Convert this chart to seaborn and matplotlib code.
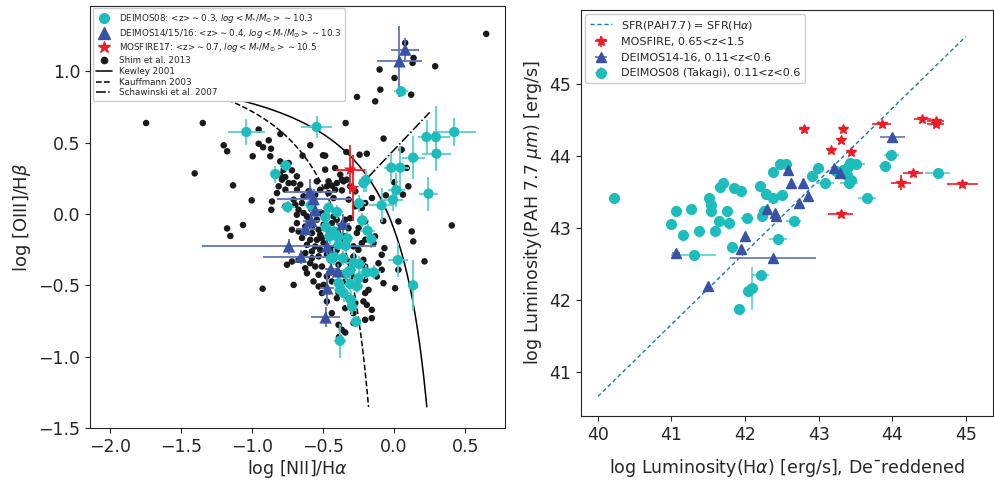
import numpy as np
import matplotlib
matplotlib.use("Agg")
import matplotlib.pyplot as plt
from matplotlib.lines import Line2D
import seaborn as sns

# ---- BPT panel: Shim et al. 2013 (black dots) ----
shim_x = [-0.644, -0.485, -0.243, -0.192, -0.801, -0.742, -0.777, -0.719, -0.801, -0.766,
          -0.742, -0.789, -0.684, -0.707, -0.485, -0.415, -0.379, -0.543, -0.461, -0.403,
          -0.356, -0.333, -0.473, -0.438, -0.520, -0.367, -0.415, -0.602, -0.555, -0.707,
          -0.648, -0.859, -0.766, -0.695, -0.672, -0.864, -0.637, -0.684, -0.613, -0.508,
          -0.473, -0.426, -0.438, -0.403, -0.344, -0.309, -0.321, -0.684, -0.625, -0.578,
          -0.531, -0.672, -0.719, -0.578, -0.520, -0.461, -0.415, -0.543, -0.508, -0.590,
          -0.613, -0.555, -0.520, -0.578, -0.625, -0.438, -0.403, -0.333, -0.286, -0.251,
          -0.227, -0.134, -0.145, -0.068, -0.672, -0.754, -0.719, -0.590, -0.555, -0.625,
          -0.508, -0.321, -0.286, -0.216, -0.204, -0.110, -0.087, -0.368, -0.531, -0.613,
          -0.473, -0.567, -0.531, -0.496, -0.438, -0.344, -0.204, -0.122, -0.075, 0.007,
          0.030, -0.180, -0.707, -0.391, -0.403, -0.321, -0.216, -0.192, -0.157, -0.438,
          -0.344, -0.286, -0.204, -0.157, -0.391, -0.368, -0.344, 0.053, 0.100, 0.030,
          0.135, -0.087, 0.124,
          0.648, 0.078, 0.137, 0.130, -0.102, 0.289, 0.003, -0.097, 0.120, -0.261,
          -0.133, -0.341, -1.745, -1.346, -0.074, -0.590, -0.953, -0.800, -0.882, -1.199,
          -1.175, -0.953, -0.922, -0.866, -0.995, -0.871, -1.403, -1.133, -1.002, -1.063,
          -1.175, -1.152, -0.925, -0.500, -0.336, 0.088, 0.001, 0.062, -0.058, -0.076,
          0.214, 0.406, -0.388,
          -0.578, -0.543, -0.496, -0.601, -0.648, -0.496, -0.473, -0.426, -0.391, -0.531,
          -0.578, -0.367, -0.309, -0.273, -0.461, -0.426, -0.320, -0.273, -0.227, -0.203,
          -0.156, -0.250, -0.203, -0.262, -0.203, -0.637, -0.765, -0.812, -0.824, -0.683,
          -0.660, -0.344, -0.379, -0.297, -0.250, -0.203, -0.273, -0.508, -0.473, -0.285]
shim_y = [0.409, 0.409, 0.416, 0.423, 0.369, 0.357, 0.311, 0.306, 0.276, 0.259,
          0.217, 0.241, 0.264, 0.217, 0.311, 0.323, 0.276, 0.229, 0.229, 0.217,
          0.229, 0.241, 0.194, 0.199, 0.170, 0.166, 0.170, 0.159, 0.135, 0.100,
          0.077, 0.088, 0.053, 0.065, 0.030, 0.030, 0.007, -0.005, -0.017, 0.007,
          -0.017, -0.017, -0.064, -0.040, -0.040, -0.029, -0.099, -0.064, -0.087, -0.087,
          -0.110, -0.122, -0.110, -0.134, -0.146, -0.122, -0.122, -0.181, -0.169, -0.181,
          -0.216, -0.227, -0.251, -0.262, -0.274, -0.251, -0.251, -0.227, -0.227, -0.251,
          -0.204, -0.157, -0.204, -0.239, -0.321, -0.356, -0.333, -0.345, -0.368, -0.380,
          -0.368, -0.333, -0.298, -0.321, -0.368, -0.345, -0.391, -0.415, -0.426, -0.415,
          -0.438, -0.473, -0.508, -0.497, -0.473, -0.473, -0.462, -0.438, -0.485, -0.520,
          -0.391, -0.532, -0.497, -0.555, -0.590, -0.590, -0.613, -0.637, -0.672, -0.695,
          -0.660, -0.695, -0.742, -0.730, -0.777, -0.812, -0.831, 0.451, 0.194, -0.052,
          -0.192, -0.286, -0.122,
          1.263, 1.200, 1.094, 1.059, 1.013, 1.036, 0.954, 0.872, 0.837, 0.821,
          0.790, 0.638, 0.638, 0.638, 0.529, 0.482, 0.592, 0.561, 0.517, 0.482,
          0.440, 0.493, 0.468, 0.458, 0.405, 0.405, 0.285, 0.201, 0.096, -0.077,
          -0.101, -0.154, -0.524, 0.412, 0.435, 0.323, 0.222, 0.136, 0.131, -0.049,
          -0.332, -0.080, -0.863,
          0.030, -0.040, -0.075, -0.052, -0.168, -0.203, -0.285, -0.320, -0.355, -0.297,
          -0.309, 0.241, 0.194, 0.159, 0.147, 0.112, 0.101, 0.054, 0.042, 0.077,
          0.112, -0.098, -0.051, -0.133, -0.180, 0.124, 0.171, 0.194, 0.147, 0.171,
          0.206, -0.157, -0.203, -0.437, -0.508, -0.554, -0.624, -0.554, -0.613, -0.765]

# ---- BPT panel: DEIMOS08 ----
d08_x = [0.050, -0.545, -1.040, -0.763, -0.836, 0.423, 0.228, 0.294, 0.298, 0.134,
         -0.020, 0.043, 0.242, -0.200, -0.215, 0.015, -0.008, -0.088, -0.247, -0.224,
         -0.187, -0.161, -0.585, -0.749, -0.461, -0.484, -0.402, -0.480, -0.454, -0.395,
         -0.421, -0.329, -0.390, -0.341, -0.425, -0.360, -0.444, -0.285, -0.245, -0.308,
         -0.340, -0.196, -0.144, -0.390, -0.308, -0.250, -0.261, -0.355, -0.380, -0.304,
         -0.297, -0.268, -0.381, 0.027, 0.134]
d08_y = [0.860, 0.610, 0.575, 0.340, 0.280, 0.575, 0.540, 0.540, 0.423, 0.395,
         0.325, 0.325, 0.143, 0.236, 0.217, 0.168, 0.100, 0.061, 0.075, -0.044,
         -0.117, -0.175, 0.063, 0.049, 0.044, -0.023, 0.014, -0.091, -0.157, -0.161,
         -0.122, -0.171, -0.215, -0.222, -0.297, -0.309, -0.313, -0.344, -0.351, -0.395,
         -0.419, -0.409, -0.409, -0.484, -0.491, -0.449, -0.507, -0.554, -0.531, -0.601,
         -0.648, -0.755, -0.889, -0.323, -0.500]
d08_xerr = [0.05, 0.11, 0.13, 0.04, 0.04, 0.15, 0.06, 0.10, 0.10, 0.08,
            0.05, 0.06, 0.07, 0.05, 0.04, 0.06, 0.07, 0.09, 0.05, 0.04,
            0.05, 0.04, 0.05, 0.05, 0.04, 0.03, 0.04, 0.03, 0.04, 0.03,
            0.03, 0.04, 0.04, 0.04, 0.04, 0.04, 0.03, 0.05, 0.04, 0.04,
            0.04, 0.06, 0.05, 0.04, 0.04, 0.04, 0.04, 0.05, 0.04, 0.04,
            0.04, 0.03, 0.04, 0.07, 0.03]
d08_yerr = [0.04, 0.08, 0.09, 0.04, 0.06, 0.10, 0.12, 0.22, 0.12, 0.15,
            0.10, 0.15, 0.12, 0.08, 0.06, 0.12, 0.08, 0.12, 0.06, 0.05,
            0.05, 0.06, 0.05, 0.04, 0.05, 0.04, 0.05, 0.04, 0.05, 0.04,
            0.04, 0.05, 0.04, 0.05, 0.06, 0.05, 0.04, 0.08, 0.06, 0.06,
            0.05, 0.05, 0.05, 0.06, 0.05, 0.05, 0.05, 0.06, 0.05, 0.06,
            0.06, 0.04, 0.12, 0.12, 0.18]

# ---- BPT panel: DEIMOS14/15/16 ----
d14_x = [0.078, 0.038, -0.590, -0.566, -0.554, -0.582, -0.622, -0.362, -0.470, -0.740,
         -0.655, -0.444, -0.395, -0.470, -0.482]
d14_y = [1.153, 1.071, 0.154, 0.105, 0.026, -0.049, -0.105, -0.068, -0.227, -0.227,
         -0.299, -0.386, -0.402, -0.522, -0.725]
d14_xerr = [0.10, 0.16, 0.18, 0.26, 0.05, 0.06, 0.07, 0.05, 0.05, 0.61,
            0.27, 0.04, 0.04, 0.05, 0.10]
d14_yerr = [0.08, 0.25, 0.09, 0.07, 0.05, 0.06, 0.05, 0.07, 0.06, 0.05,
            0.05, 0.05, 0.05, 0.12, 0.07]

# ---- BPT panel: MOSFIRE17 ----
mos_x = [-0.308, -0.290]
mos_y = [0.311, 0.182]
mos_xerr = [0.10, 0.03]
mos_yerr = [0.17, 0.23]

# ---- luminosity panel ----
lc_x = [40.22, 41.06, 41.26, 40.99, 41.16, 41.38, 41.51, 41.54, 41.54, 41.59,
        41.64, 41.66, 41.70, 41.76, 41.78, 41.85, 41.94, 41.82, 41.30, 42.03,
        42.20, 42.28, 42.38, 42.38, 42.48, 42.56, 42.50, 42.23, 42.26, 42.45,
        42.66, 42.21, 42.10, 42.04, 41.92, 42.91, 42.99, 43.09, 43.23, 43.33,
        43.40, 43.42, 43.51, 43.38, 43.41, 43.44, 43.66, 43.90, 43.99, 44.62]
lc_y = [43.41, 43.24, 43.27, 43.05, 42.90, 42.96, 43.41, 43.32, 43.23, 42.96,
        43.10, 43.57, 43.62, 43.24, 43.07, 43.55, 43.51, 42.74, 42.62, 43.14,
        43.58, 43.47, 43.42, 43.78, 43.89, 43.89, 43.46, 43.16, 43.23, 42.85,
        43.09, 42.34, 42.16, 42.13, 41.88, 43.72, 43.83, 43.62, 43.79, 43.81,
        43.85, 43.90, 43.89, 43.74, 43.63, 43.66, 43.42, 43.86, 44.01, 43.77]
lc_xerr = [0, 0, 0, 0, 0, 0, 0, 0, 0, 0,
           0, 0, 0, 0, 0, 0, 0, 0, 0.30, 0.08,
           0, 0, 0, 0, 0, 0, 0, 0, 0, 0.12,
           0.10, 0.12, 0, 0, 0, 0, 0, 0.12, 0, 0,
           0.10, 0, 0.12, 0, 0.12, 0, 0.12, 0.08, 0.10, 0.17]
lc_yerr = [0] * 32 + [0.30] + [0] * 17

lb_x = [41.06, 41.50, 41.94, 42.00, 42.38, 42.30, 42.41, 42.42, 42.59, 42.63,
        42.79, 42.85, 42.73, 43.21, 43.29, 44.00]
lb_y = [42.65, 42.20, 42.71, 42.89, 42.58, 43.26, 43.21, 43.16, 43.81, 43.63,
        43.63, 43.45, 43.34, 43.84, 43.76, 44.27]
lb_xerr = [0.05, 0, 0, 0, 0.58, 0, 0, 0, 0, 0,
           0, 0, 0, 0, 0, 0.17]

lr_x = [42.80, 43.33, 43.31, 43.17, 43.44, 43.86, 44.41, 44.59, 44.59, 44.28,
        44.12, 44.95, 43.30]
lr_y = [44.37, 44.37, 44.22, 44.08, 44.06, 44.44, 44.51, 44.48, 44.45, 43.77,
        43.63, 43.61, 43.20]
lr_xerr = [0.07, 0.06, 0.04, 0.06, 0.05, 0.13, 0.12, 0.12, 0.12, 0.14,
           0.13, 0.21, 0.17]
lr_yerr = [0.03, 0.03, 0.03, 0.03, 0.03, 0.03, 0.03, 0.03, 0.03, 0.04,
           0.10, 0.03, 0.03]

one_to_one = [40.0, 45.0]

CYAN = '#1dbdbd'
CYAN_E = '#5ccfcf'
BLUE = '#3a52a3'
BLUE_E = '#5e74ba'
RED = '#ee1c24'

sns.set_style("ticks")
plt.rcParams['font.family'] = ['DejaVu Sans']
plt.rcParams['mathtext.fontset'] = 'dejavusans'

fig = plt.figure(figsize=(9.94, 4.83), dpi=100)
ax1 = fig.add_axes([0.0905, 0.114, 0.4175, 0.874])
ax2 = fig.add_axes([0.5845, 0.139, 0.4145, 0.8406])

# demarcation lines
xk = np.linspace(-2.0, 0.23, 300)
xf = np.linspace(-2.0, -0.18, 300)
xs = np.linspace(-0.18, 0.25, 50)
sns.lineplot(x=xk, y=0.61 / (xk - 0.47) + 1.19, color='k', lw=1.1, ax=ax1, estimator=None)
sns.lineplot(x=xf, y=0.61 / (xf - 0.05) + 1.3, color='k', lw=1.1, ls='--', ax=ax1, estimator=None)
sns.lineplot(x=xs, y=1.05 * xs + 0.45, color='k', lw=1.1, ls='-.', ax=ax1, estimator=None)

sns.scatterplot(x=shim_x, y=shim_y, color='#1a1a1a', s=22, edgecolor='none', ax=ax1, zorder=3)

ax1.errorbar(d08_x, d08_y, xerr=d08_xerr, yerr=d08_yerr, fmt='none', ecolor=CYAN_E, elinewidth=1.3, zorder=4)
sns.scatterplot(x=d08_x, y=d08_y, color=CYAN, marker='o', s=55, edgecolor='none', ax=ax1, zorder=5)
ax1.errorbar(d14_x, d14_y, xerr=d14_xerr, yerr=d14_yerr, fmt='none', ecolor=BLUE_E, elinewidth=1.3, zorder=4)
sns.scatterplot(x=d14_x, y=d14_y, color=BLUE, marker='^', s=80, edgecolor='none', ax=ax1, zorder=5)
ax1.errorbar(mos_x, mos_y, xerr=mos_xerr, yerr=mos_yerr, fmt='none', ecolor=RED, elinewidth=1.3, zorder=6)
sns.scatterplot(x=mos_x, y=mos_y, color=RED, marker='*', s=100, edgecolor='none', ax=ax1, zorder=7)

h1 = [Line2D([], [], ls='none', marker='o', color=CYAN, ms=7),
      Line2D([], [], ls='none', marker='^', color=BLUE, ms=8),
      Line2D([], [], ls='none', marker='*', color=RED, ms=9),
      Line2D([], [], ls='none', marker='o', color='#1a1a1a', ms=4.5),
      Line2D([], [], color='k', lw=1.1),
      Line2D([], [], color='k', lw=1.1, ls='--'),
      Line2D([], [], color='k', lw=1.1, ls='-.')]
l1 = [r'DEIMOS08: <z>$\sim$0.3, $log<M_{*}/M_{\odot}>\sim$10.3',
      r'DEIMOS14/15/16: <z>$\sim$0.4, $log<M_{*}/M_{\odot}>\sim$10.3',
      r'MOSFIRE17: <z>$\sim$0.7, $log<M_{*}/M_{\odot}>\sim$10.5',
      'Shim et al. 2013', 'Kewley 2001', 'Kauffmann 2003', 'Schawinski et al. 2007']
ax1.legend(h1, l1, loc='upper left', fontsize=6.3, framealpha=1, borderaxespad=0.3,
           handlelength=1.8, labelspacing=0.2, borderpad=0.4)

ax1.set_xlim(-2.14, 0.78)
ax1.set_ylim(-1.5, 1.46)
ax1.set_xticks([-2.0, -1.5, -1.0, -0.5, 0.0, 0.5])
ax1.set_yticks([-1.5, -1.0, -0.5, 0.0, 0.5, 1.0])
ax1.set_xlabel(r'log [NII]/H$\alpha$', fontsize=12.5, labelpad=2)
ax1.set_ylabel(r'log [OIII]/H$\beta$', fontsize=13)
ax1.tick_params(labelsize=12.5)

# luminosity panel
sns.lineplot(x=one_to_one, y=[v + 0.66 for v in one_to_one], color='#1f77b4', lw=1,
             ls=(0, (3, 2)), ax=ax2, label=r'SFR(PAH7.7) = SFR(H$\alpha$)')
ax2.errorbar(lr_x, lr_y, xerr=lr_xerr, yerr=lr_yerr, fmt='*', color=RED, ms=7,
             elinewidth=1.2, label='MOSFIRE, 0.65<z<1.5', zorder=6)
ax2.errorbar(lb_x, lb_y, xerr=lb_xerr, fmt='^', color=BLUE, ecolor=BLUE_E, ms=7,
             elinewidth=1.2, label='DEIMOS14-16, 0.11<z<0.6', zorder=5)
ax2.errorbar(lc_x, lc_y, xerr=lc_xerr, yerr=lc_yerr, fmt='o', color=CYAN, ecolor=CYAN_E, ms=7,
             elinewidth=1.2, label='DEIMOS08 (Takagi), 0.11<z<0.6', zorder=4)
ax2.legend(loc='upper left', fontsize=8, framealpha=1, borderaxespad=0.4)

ax2.set_xlim(39.77, 45.37)
ax2.set_ylim(40.39, 46.03)
ax2.set_xticks([40, 41, 42, 43, 44, 45])
ax2.set_yticks([41, 42, 43, 44, 45])
ax2.set_xlabel(r'log Luminosity(H$\alpha$) [erg/s], De¯reddened', fontsize=12.5, labelpad=10)
ax2.set_ylabel(r'log Luminosity(PAH 7.7 $\mu m$) [erg/s]', fontsize=12.5)
ax2.tick_params(labelsize=12.5)

fig.savefig('out.png', dpi=100)
